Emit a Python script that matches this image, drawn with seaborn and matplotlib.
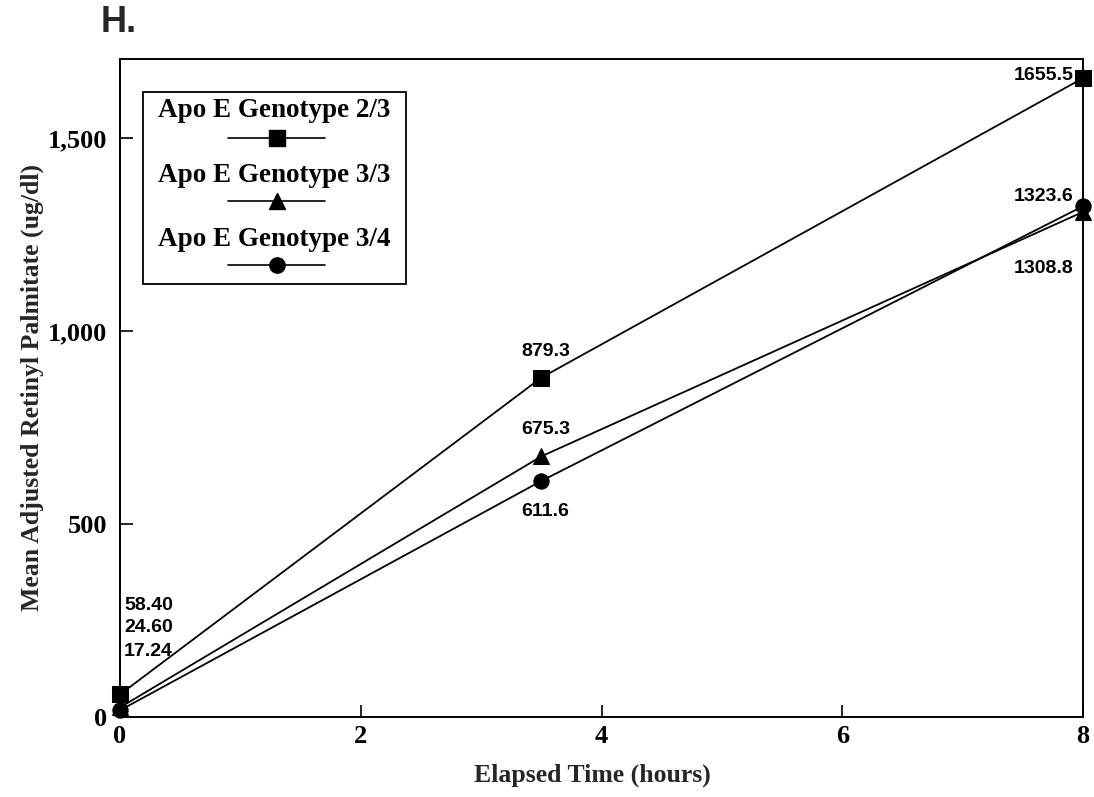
import matplotlib
matplotlib.use("Agg")
import matplotlib.pyplot as plt
from matplotlib.lines import Line2D
from matplotlib.patches import Rectangle
import seaborn as sns
import pandas as pd

hours = [0, 3.5, 8]
geno_23 = [58.40, 879.3, 1655.5]
geno_33 = [24.60, 675.3, 1308.8]
geno_34 = [17.24, 611.6, 1323.6]
series_names = ["Apo E Genotype 2/3", "Apo E Genotype 3/3", "Apo E Genotype 3/4"]
label_23 = ["58.40", "879.3", "1655.5"]
label_33 = ["24.60", "675.3", "1308.8"]
label_34 = ["17.24", "611.6", "1323.6"]
x_ticks = [0, 2, 4, 6, 8]
y_ticks = [0, 500, 1000, 1500]
y_tick_labels = ["0", "500", "1,000", "1,500"]

sns.set_theme(style="white")
plt.rcParams["font.family"] = ["Liberation Serif", "DejaVu Serif"]

rows = []
for name, vals in zip(series_names, [geno_23, geno_33, geno_34]):
    for h, v in zip(hours, vals):
        rows.append({"hours": h, "value": v, "genotype": name})
df = pd.DataFrame(rows)

fig = plt.figure(figsize=(10.94, 7.97), dpi=100)
ax = fig.add_axes([0.1097, 0.1004, 0.8803, 0.8256])

markers = {series_names[0]: "s", series_names[1]: "^", series_names[2]: "o"}
sns.lineplot(data=df, x="hours", y="value", style="genotype", markers=markers,
             dashes=False, color="black", linewidth=1.3, markersize=11,
             markeredgecolor="black", legend=False, ax=ax, sort=False)
for ln in ax.lines:
    ln.set_clip_on(False)
    ln.set_zorder(6)

ax.set_xlim(0, 8)
ax.set_ylim(0, 1705)
ax.set_xticks(x_ticks)
ax.set_yticks(y_ticks)
ax.set_yticklabels(y_tick_labels)
ax.tick_params(direction="in", length=9, width=1.2, labelsize=19, pad=6,
               bottom=True, left=True, colors="black")
ax.tick_params(axis="y", pad=9)
for lab in ax.get_xticklabels() + ax.get_yticklabels():
    lab.set_fontweight("bold")
for s in ax.spines.values():
    s.set_linewidth(1.4)
    s.set_color("black")

ax.set_xlabel("Elapsed Time (hours)", fontsize=18.5, fontweight="bold")
ax.xaxis.set_label_coords(0.491, -0.071)
ax.set_ylabel("Mean Adjusted Retinyl Palmitate (ug/dl)", fontsize=18.5,
              fontweight="bold", labelpad=3)

lab_font = dict(fontsize=14, fontweight="bold", family=["Liberation Sans", "DejaVu Sans"],
                color="black")
# labels at x = 0 (stacked)
ax.annotate(label_23[0], xy=(hours[0], geno_23[0]), xytext=(3, 64),
            textcoords="offset points", ha="left", va="center", **lab_font)
ax.annotate(label_33[0], xy=(hours[0], geno_23[0]), xytext=(3, 48),
            textcoords="offset points", ha="left", va="center", **lab_font)
ax.annotate(label_34[0], xy=(hours[0], geno_23[0]), xytext=(3, 31),
            textcoords="offset points", ha="left", va="center", **lab_font)
# labels at 3.5
ax.annotate(label_23[1], xy=(hours[1], geno_23[1]), xytext=(3, 19),
            textcoords="offset points", ha="center", va="center", **lab_font)
ax.annotate(label_33[1], xy=(hours[1], geno_33[1]), xytext=(3, 19),
            textcoords="offset points", ha="center", va="center", **lab_font)
ax.annotate(label_34[1], xy=(hours[1], geno_34[1]), xytext=(3, -22),
            textcoords="offset points", ha="center", va="center", **lab_font)
# labels at 8
ax.annotate(label_23[2], xy=(hours[2], geno_23[2]), xytext=(-7, 2),
            textcoords="offset points", ha="right", va="center", **lab_font)
ax.annotate(label_34[2], xy=(hours[2], geno_34[2]), xytext=(-7, 7),
            textcoords="offset points", ha="right", va="center", **lab_font)
ax.annotate(label_33[2], xy=(hours[2], geno_33[2]), xytext=(-7, -41),
            textcoords="offset points", ha="right", va="center", **lab_font)

# custom legend: label above a marker line
ax.add_patch(Rectangle((0.024, 0.658), 0.273, 0.292, transform=ax.transAxes,
                       fill=False, edgecolor="black", linewidth=1.3, zorder=5))
text_y = [0.921, 0.823, 0.726]
line_y = [0.880, 0.784, 0.687]
for name, ty, ly in zip(series_names, text_y, line_y):
    ax.text(0.160, ty, name, transform=ax.transAxes, ha="center", va="center",
            fontsize=19.5, fontweight="bold", color="black")
    ax.add_line(Line2D([0.112, 0.213], [ly, ly], transform=ax.transAxes,
                       color="black", linewidth=1.2))
    ax.add_line(Line2D([0.1625], [ly], transform=ax.transAxes, marker=markers[name],
                       markersize=11, color="black", linestyle="none"))

fig.text(101 / 1094, 1 - 23 / 797, "H.", fontsize=26, fontweight="bold",
         family=["Liberation Sans", "DejaVu Sans"], ha="left", va="center")

fig.savefig("out.png", dpi=100, facecolor="white")
